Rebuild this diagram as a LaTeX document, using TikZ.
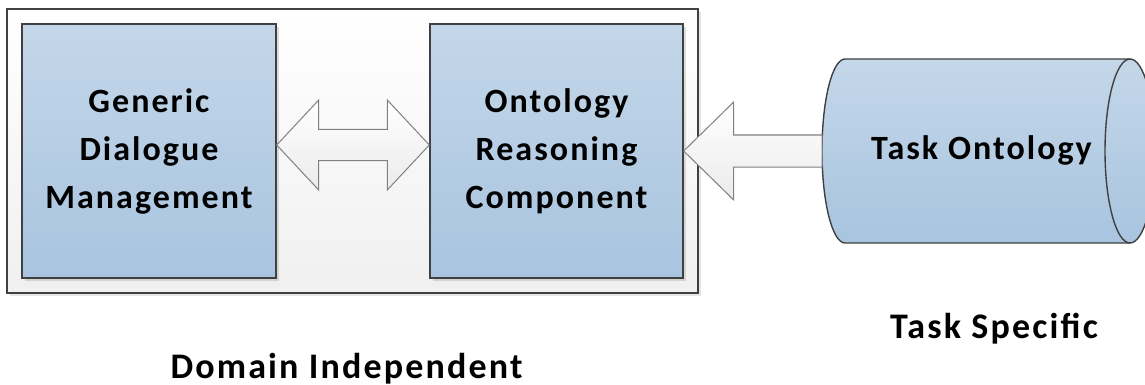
\documentclass[tikz,border=0pt]{standalone}
\usepackage{fontspec}
\setmainfont{Carlito}
\newfontfamily\diagfont[LetterSpace=6]{Carlito}
\usetikzlibrary{calc,shadows}

\definecolor{boxtop}{RGB}{196,215,233}
\definecolor{boxbot}{RGB}{168,196,223}
\definecolor{edge}{RGB}{64,64,64}
\definecolor{arredge}{RGB}{128,128,128}

\tikzset{
    module/.style={draw=edge, line width=0.7pt, top color=boxtop, bottom color=boxbot,
        minimum width=127pt, minimum height=127pt, inner sep=0pt, align=center,
        font=\diagfont\fontsize{17}{24}\selectfont\bfseries,
        drop shadow={shadow xshift=1.5pt, shadow yshift=-1.5pt, opacity=0.25}},
    blockarrow/.style={draw=arredge, line width=0.5pt, top color=white, bottom color=black!8},
    caption/.style={font=\diagfont\fontsize{18}{22}\selectfont\bfseries, anchor=base, inner sep=0pt}
}

\begin{document}
\begin{tikzpicture}[x=0.5pt,y=-0.5pt]
        \useasboundingbox (0,0) rectangle (1145,385);

        \node[draw=edge, line width=0.8pt, top color=white, bottom color=black!6,
              minimum width=345.5pt, minimum height=142pt,
              drop shadow={shadow xshift=1.5pt, shadow yshift=-1.5pt, opacity=0.2}] (frame) at (352.5,151) {};

        \node[module] (gdm) at (149,151) {Generic\\Dialogue\\Management};
        \node[module, minimum width=126.5pt] (orc) at (556.5,151) {Ontology\\Reasoning\\Component};

        % task ontology store
        \draw[edge, line width=0.7pt, top color=boxtop, bottom color=boxbot]
            (845,59) -- (1130,59) arc[start angle=90, end angle=-90, x radius=12.5pt, y radius=46pt]
            -- (845,243) arc[start angle=270, end angle=90, x radius=11.5pt, y radius=46pt] -- cycle;
        \draw[edge, line width=0.7pt] (1130,59) arc[start angle=90, end angle=270, x radius=12.5pt, y radius=46pt];
        \coordinate (tontw) at (822,151);
        \node[font=\diagfont\fontsize{17}{24}\selectfont\bfseries] (tont) at (981.5,150) {Task Ontology};

        \coordinate (dl) at ([yshift=3pt]gdm.east);
        \coordinate (dr) at ([yshift=3pt]orc.west);
        \draw[blockarrow] (dl) -- ++(42,-45) -- ++(0,29.5) -- ($(dr)+(-42,-15.5)$) -- ++(0,-29.5)
            -- (dr) -- ++(-42,45) -- ++(0,-29.5) -- ($(dl)+(42,15.5)$) -- ++(0,29.5) -- cycle;

        \draw[blockarrow] (orc.east) -- ++(50,-49) -- ++(0,33) -- ($(tontw)+(0,-16)$)
            -- ($(tontw)+(0,16)$) -- ($(orc.east)+(50,16)$) -- ++(0,33) -- cycle;

        \node[caption] (dom) at (346.5,378) {Domain Independent};
        \node[caption] (spec) at (994,338) {Task Specific};
    \end{tikzpicture}
\end{document}
